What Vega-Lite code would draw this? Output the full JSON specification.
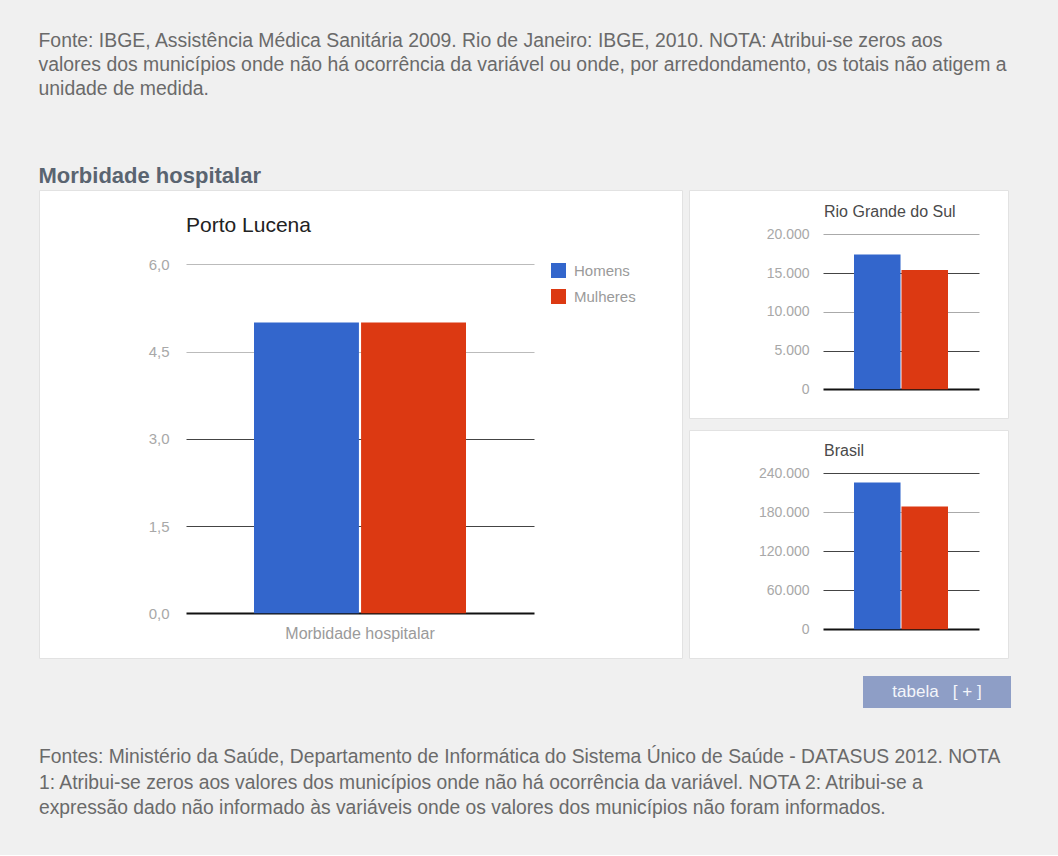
{
  "$schema": "https://vega.github.io/schema/vega-lite/v6.json",
  "background": "#f0f0f0",
  "padding": {"left": 38, "top": 31, "right": 48, "bottom": 36},
  "title": {
    "text": [
      "Fonte: IBGE, Assistência Médica Sanitária 2009. Rio de Janeiro: IBGE, 2010. NOTA: Atribui-se zeros aos",
      "valores dos municípios onde não há ocorrência da variável ou onde, por arredondamento, os totais não atigem a",
      "unidade de medida."
    ],
    "subtitle": "Morbidade hospitalar",
    "anchor": "start",
    "font": "Liberation Sans",
    "fontSize": 19.4,
    "fontWeight": "normal",
    "color": "#6a6a6a",
    "lineHeight": 24,
    "subtitleFont": "Liberation Sans",
    "subtitleFontSize": 22,
    "subtitleFontWeight": "bold",
    "subtitleColor": "#5a6470",
    "subtitlePadding": 66,
    "offset": 2
  },
  "datasets": {
    "porto": [
      {"categoria": "Morbidade hospitalar", "sexo": "Homens", "valor": 5},
      {"categoria": "Morbidade hospitalar", "sexo": "Mulheres", "valor": 5}
    ],
    "rs": [
      {"sexo": "Homens", "valor": 17400},
      {"sexo": "Mulheres", "valor": 15400}
    ],
    "br": [
      {"sexo": "Homens", "valor": 226000},
      {"sexo": "Mulheres", "valor": 189000}
    ],
    "botao": [
      {"rotulo": "tabela\u00a0\u00a0\u00a0[\u00a0+\u00a0]"}
    ]
  },
  "spacing": 17,
  "vconcat": [
    {
      "spacing": 5,
      "resolve": {"scale": {"color": "independent"}, "legend": {"color": "independent"}},
      "hconcat": [
        {
          "width": 643,
          "height": 468,
          "view": {"fill": "white", "stroke": "#e2e2e2"},
          "data": {"name": "porto"},
          "title": {
            "text": "Porto Lucena",
            "anchor": "start",
            "offset": -46,
            "dx": 147,
            "font": "Liberation Sans",
            "fontSize": 21,
            "fontWeight": "normal",
            "color": "#222222"
          },
          "mark": {"type": "bar"},
          "encoding": {
            "x": {
              "field": "categoria",
              "type": "nominal",
              "scale": {"range": [215, 427], "paddingInner": 0, "paddingOuter": 0},
              "axis": {
                "orient": "bottom",
                "offset": -45,
                "domain": false,
                "ticks": false,
                "labelAngle": 0,
                "labelPadding": 12,
                "labelFont": "Liberation Sans",
                "labelFontSize": 16,
                "labelColor": "#9a9a9a",
                "title": null
              }
            },
            "xOffset": {
              "field": "sexo",
              "type": "nominal",
              "scale": {"paddingInner": 0.02, "paddingOuter": 0}
            },
            "y": {
              "field": "valor",
              "type": "quantitative",
              "scale": {"domain": [-0.768, 7.277], "nice": false, "zero": false},
              "axis": {
                "orient": "left",
                "offset": -495,
                "tickSize": 348,
                "values": [0, 1.5, 3, 4.5, 6],
                "labelExpr": "replace(format(datum.value, '.1f'), '.', ',')",
                "domain": false,
                "grid": false,
                "labelPadding": 17,
                "labelFont": "Liberation Sans",
                "labelFontSize": 15,
                "labelColor": "#a8a8a8",
                "tickColor": {
                  "condition": [
                    {"test": "datum.value === 0", "value": "#111111"},
                    {"test": "datum.value === 3 || datum.value === 1.5", "value": "#444444"}
                  ],
                  "value": "#bbbbbb"
                },
                "tickWidth": {
                  "condition": {"test": "datum.value === 0", "value": 2},
                  "value": 1
                },
                "title": null
              }
            },
            "y2": {"datum": 0},
            "color": {
              "field": "sexo",
              "type": "nominal",
              "scale": {"domain": ["Homens", "Mulheres"], "range": ["#3366cc", "#dc3912"]},
              "legend": {
                "orient": "none",
                "legendX": 512,
                "legendY": 73,
                "title": null,
                "padding": 0,
                "symbolType": "square",
                "symbolSize": 225,
                "symbolStrokeWidth": 0,
                "labelFont": "Liberation Sans",
                "labelFontSize": 15,
                "labelColor": "#9a9a9a",
                "labelOffset": 8,
                "rowPadding": 10
              }
            }
          }
        },
        {
          "spacing": 10,
          "resolve": {"scale": {"color": "independent"}, "legend": {"color": "independent"}},
          "vconcat": [
            {
              "width": 319,
              "height": 228,
              "view": {"fill": "white", "stroke": "#e2e2e2"},
              "data": {"name": "rs"},
              "title": {
                "text": "Rio Grande do Sul",
                "anchor": "start",
                "offset": -30,
                "dx": 135,
                "font": "Liberation Sans",
                "fontSize": 16,
                "fontWeight": "normal",
                "color": "#4a4a4a"
              },
              "mark": {"type": "bar"},
              "encoding": {
                "x": {
                  "field": "sexo",
                  "type": "nominal",
                  "scale": {"range": [165, 259], "paddingInner": 0.02, "paddingOuter": 0},
                  "axis": null
                },
                "y": {
                  "field": "valor",
                  "type": "quantitative",
                  "scale": {"domain": [-3703, 25716], "nice": false, "zero": false},
                  "axis": {
                    "orient": "left",
                    "offset": -290,
                    "tickSize": 156,
                    "values": [0, 5000, 10000, 15000, 20000],
                    "labelExpr": "replace(format(datum.value, ','), ',', '.')",
                    "domain": false,
                    "grid": false,
                    "labelPadding": 14,
                    "labelFont": "Liberation Sans",
                    "labelFontSize": 14,
                    "labelColor": "#a8a8a8",
                    "tickColor": {
                      "condition": [
                        {"test": "datum.value === 0", "value": "#111111"},
                        {"test": "datum.value === 15000 || datum.value === 5000", "value": "#444444"}
                      ],
                      "value": "#aaaaaa"
                    },
                    "tickWidth": {
                      "condition": {"test": "datum.value === 0", "value": 2},
                      "value": 1
                    },
                    "title": null
                  }
                },
                "y2": {"datum": 0},
                "color": {
                  "field": "sexo",
                  "type": "nominal",
                  "scale": {"domain": ["Homens", "Mulheres"], "range": ["#3366cc", "#dc3912"]},
                  "legend": null
                }
              }
            },
            {
              "width": 319,
              "height": 228,
              "view": {"fill": "white", "stroke": "#e2e2e2"},
              "data": {"name": "br"},
              "title": {
                "text": "Brasil",
                "anchor": "start",
                "offset": -29,
                "dx": 135,
                "font": "Liberation Sans",
                "fontSize": 16,
                "fontWeight": "normal",
                "color": "#4a4a4a"
              },
              "mark": {"type": "bar"},
              "encoding": {
                "x": {
                  "field": "sexo",
                  "type": "nominal",
                  "scale": {"range": [165, 259], "paddingInner": 0.02, "paddingOuter": 0},
                  "axis": null
                },
                "y": {
                  "field": "valor",
                  "type": "quantitative",
                  "scale": {"domain": [-44154, 306615], "nice": false, "zero": false},
                  "axis": {
                    "orient": "left",
                    "offset": -290,
                    "tickSize": 156,
                    "values": [0, 60000, 120000, 180000, 240000],
                    "labelExpr": "replace(format(datum.value, ','), ',', '.')",
                    "domain": false,
                    "grid": false,
                    "labelPadding": 14,
                    "labelFont": "Liberation Sans",
                    "labelFontSize": 14,
                    "labelColor": "#a8a8a8",
                    "tickColor": {
                      "condition": [
                        {"test": "datum.value === 0", "value": "#111111"},
                        {"test": "datum.value === 180000", "value": "#aaaaaa"}
                      ],
                      "value": "#444444"
                    },
                    "tickWidth": {
                      "condition": {"test": "datum.value === 0", "value": 2},
                      "value": 1
                    },
                    "title": null
                  }
                },
                "y2": {"datum": 0},
                "color": {
                  "field": "sexo",
                  "type": "nominal",
                  "scale": {"domain": ["Homens", "Mulheres"], "range": ["#3366cc", "#dc3912"]},
                  "legend": null
                }
              }
            }
          ]
        }
      ]
    },
    {
      "spacing": 0,
      "title": {
        "text": [
          "Fontes: Ministério da Saúde, Departamento de Informática do Sistema Único de Saúde - DATASUS 2012. NOTA",
          "1: Atribui-se zeros aos valores dos municípios onde não há ocorrência da variável. NOTA 2: Atribui-se a",
          "expressão dado não informado às variáveis onde os valores dos municípios não foram informados."
        ],
        "orient": "bottom",
        "anchor": "start",
        "offset": 40,
        "font": "Liberation Sans",
        "fontSize": 19.3,
        "fontWeight": "normal",
        "color": "#6a6a6a",
        "lineHeight": 25.5
      },
      "hconcat": [
        {
          "width": 824,
          "height": 32,
          "view": {"fill": null, "stroke": null},
          "data": {"name": "botao"},
          "mark": {"type": "text", "text": ""},
          "encoding": {}
        },
        {
          "width": 148,
          "height": 32,
          "view": {"fill": "#8e9ec6", "stroke": null},
          "data": {"name": "botao"},
          "mark": {
            "type": "text",
            "align": "center",
            "baseline": "middle",
            "font": "Liberation Sans",
            "fontSize": 17,
            "color": "#f4f6fb"
          },
          "encoding": {
            "text": {"field": "rotulo", "type": "nominal"}
          }
        }
      ]
    }
  ],
  "config": {
    "font": "Liberation Sans",
    "view": {"stroke": null},
    "concat": {"spacing": 10}
  }
}
